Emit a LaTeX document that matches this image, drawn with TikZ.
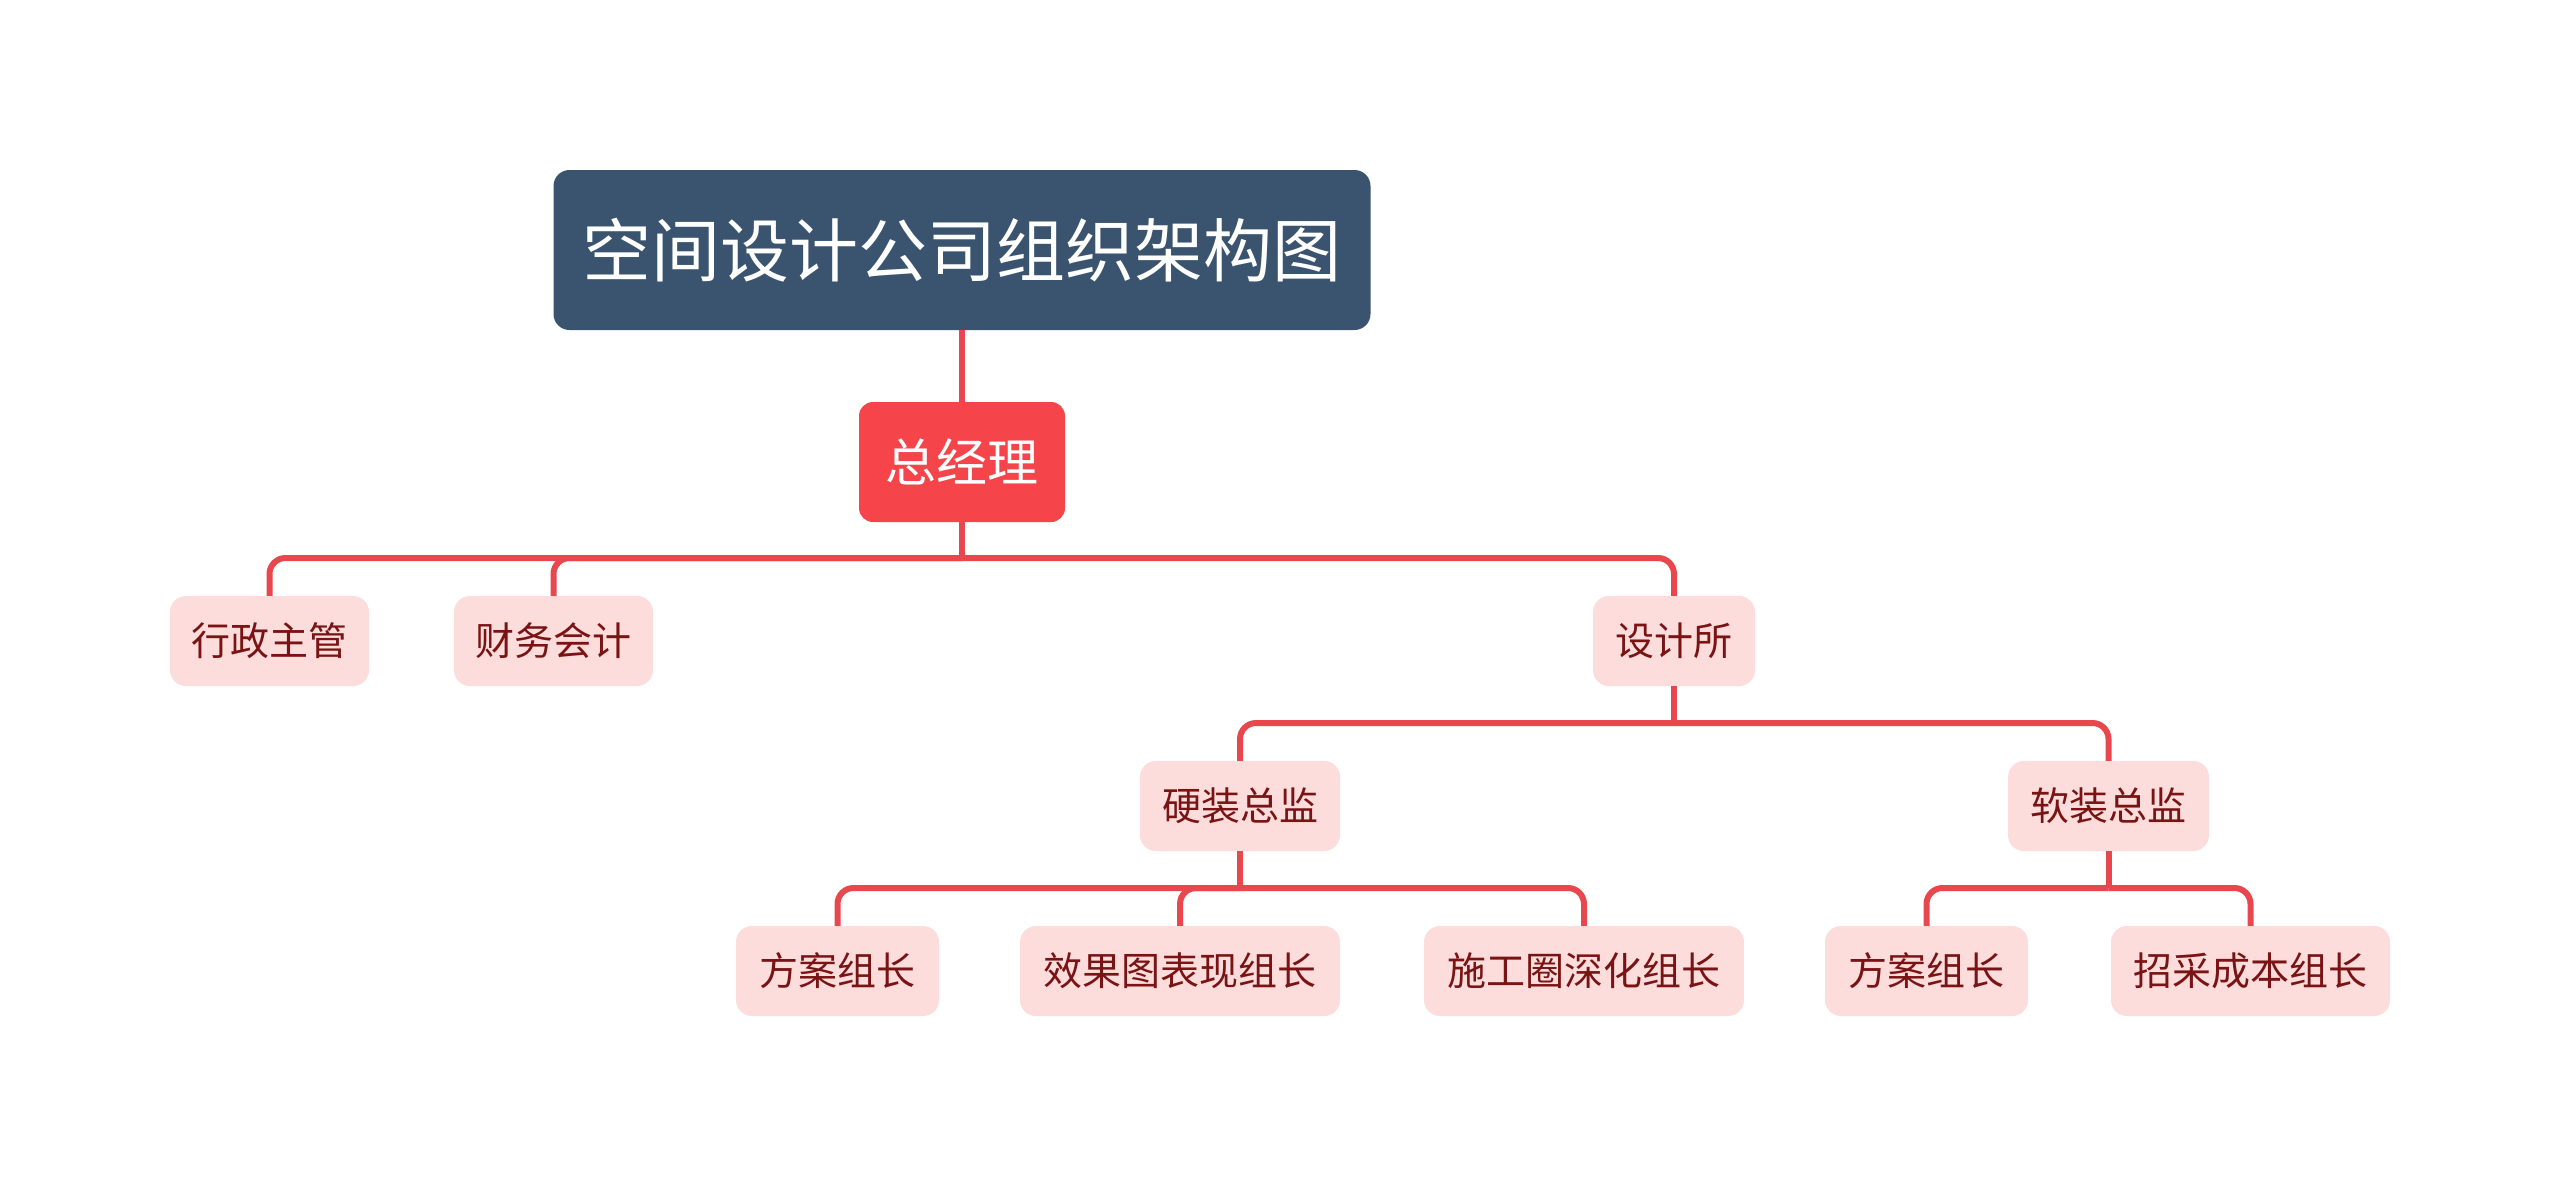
\documentclass[tikz,border=0pt]{standalone}
\usepackage{fontspec}
\setmainfont{Noto Sans CJK SC}
\definecolor{rootfill}{HTML}{3A5470}
\definecolor{gmfill}{HTML}{F5454B}
\definecolor{kidfill}{HTML}{FDDCDC}
\definecolor{kidtext}{HTML}{7A1414}
\definecolor{linecol}{HTML}{E8474E}
\tikzset{
  rootbox/.style={fill=rootfill, rounded corners=16pt, text=white, inner sep=0pt,
    font=\fontsize{69}{69}\selectfont},
  gmbox/.style={fill=gmfill, rounded corners=14pt, text=white, inner sep=0pt,
    font=\fontsize{51}{51}\selectfont},
  kidbox/.style={fill=kidfill, rounded corners=16pt, text=kidtext, inner sep=0pt,
    minimum height=90pt, font=\fontsize{39}{39}\selectfont},
  conn/.style={draw=linecol, line width=6pt, rounded corners=16pt},
}
\begin{document}
\begin{tikzpicture}[x=1pt,y=-1pt]
\useasboundingbox[fill=white] (0,0) rectangle (2560,1187);
\coordinate (bus1) at (962,558);
\coordinate (bus2) at (1674,723);
\coordinate (bus3) at (1240,888);
\coordinate (bus4) at (2108.5,888);

\node[rootbox, minimum width=817pt, minimum height=160pt] (root) at (962,250) {空间设计公司组织架构图};
\node[gmbox, minimum width=206pt, minimum height=120pt] (gm) at (962,462) {总经理};

\node[kidbox, minimum width=199pt] (a1) at (269.5,641) {行政主管};
\node[kidbox, minimum width=199pt] (a2) at (553.5,641) {财务会计};
\node[kidbox, minimum width=162pt] (a3) at (1674,641) {设计所};

\node[kidbox, minimum width=200pt] (b1) at (1240,806) {硬装总监};
\node[kidbox, minimum width=201pt] (b2) at (2108.5,806) {软装总监};

\node[kidbox, minimum width=203pt] (c1) at (837.5,971) {方案组长};
\node[kidbox, minimum width=320pt] (c2) at (1180,971) {效果图表现组长};
\node[kidbox, minimum width=320pt] (c3) at (1584,971) {施工圈深化组长};
\node[kidbox, minimum width=203pt] (c4) at (1926.5,971) {方案组长};
\node[kidbox, minimum width=279pt] (c5) at (2250.5,971) {招采成本组长};

\draw[conn] (root.south) -- (gm.north);
\draw[conn] (gm.south) -- (bus1);
\draw[conn] (bus1) -| (a1.north);
\draw[conn] (bus1) -| (a2.north);
\draw[conn] (bus1) -| (a3.north);
\draw[conn] (a3.south) -- (bus2);
\draw[conn] (bus2) -| (b1.north);
\draw[conn] (bus2) -| (b2.north);
\draw[conn] (b1.south) -- (bus3);
\draw[conn] (bus3) -| (c1.north);
\draw[conn] (bus3) -| (c2.north);
\draw[conn] (bus3) -| (c3.north);
\draw[conn] (b2.south) -- (bus4);
\draw[conn] (bus4) -| (c4.north);
\draw[conn] (bus4) -| (c5.north);
\end{tikzpicture}
\end{document}
